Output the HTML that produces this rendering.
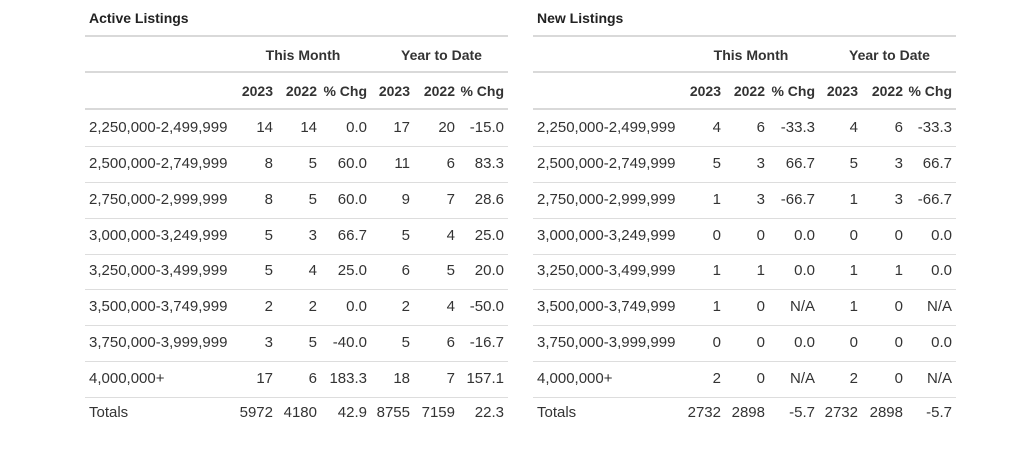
<!DOCTYPE html>
<html><head><meta charset="utf-8"><style>
body{margin:0;width:1024px;height:460px;background:#fff;font-family:"Liberation Sans",sans-serif;color:#333;position:relative;overflow:hidden}
.a{position:absolute;white-space:nowrap;font-size:15px;line-height:16px}
.t{font-size:14px;font-weight:bold;color:#222}
.h{font-weight:bold;color:#333;font-size:14px}
.l{position:absolute;height:1px;background:#ddd}
.L{position:absolute;height:2px;background:#d9d9d9}
</style></head><body><div id="r"></div>
<script>
const T=[
["Active Listings",[
["2,250,000-2,499,999","14","14","0.0","17","20","-15.0"],
["2,500,000-2,749,999","8","5","60.0","11","6","83.3"],
["2,750,000-2,999,999","8","5","60.0","9","7","28.6"],
["3,000,000-3,249,999","5","3","66.7","5","4","25.0"],
["3,250,000-3,499,999","5","4","25.0","6","5","20.0"],
["3,500,000-3,749,999","2","2","0.0","2","4","-50.0"],
["3,750,000-3,999,999","3","5","-40.0","5","6","-16.7"],
["4,000,000+","17","6","183.3","18","7","157.1"],
["Totals","5972","4180","42.9","8755","7159","22.3"]]],
["New Listings",[
["2,250,000-2,499,999","4","6","-33.3","4","6","-33.3"],
["2,500,000-2,749,999","5","3","66.7","5","3","66.7"],
["2,750,000-2,999,999","1","3","-66.7","1","3","-66.7"],
["3,000,000-3,249,999","0","0","0.0","0","0","0.0"],
["3,250,000-3,499,999","1","1","0.0","1","1","0.0"],
["3,500,000-3,749,999","1","0","N/A","1","0","N/A"],
["3,750,000-3,999,999","0","0","0.0","0","0","0.0"],
["4,000,000+","2","0","N/A","2","0","N/A"],
["Totals","2732","2898","-5.7","2732","2898","-5.7"]]]];
const R=[273,317,367,410,455,504];
const ys=[128,164,200,236,271,307,343,379,413];
let h="";
T.forEach((t,k)=>{const o=k*448,x0=85+o,w=423;
h+=`<div class="a t" style="left:${89+o}px;top:10px">${t[0]}</div>`;
h+=`<div class="L" style="left:${x0}px;width:${w}px;top:35px"></div>`;
h+=`<div class="L" style="left:${x0}px;width:${w}px;top:71px"></div>`;
h+=`<div class="L" style="left:${x0}px;width:${w}px;top:108px"></div>`;
h+=`<div class="a h" style="left:${235+o}px;width:136px;text-align:center;top:47px">This Month</div>`;
h+=`<div class="a h" style="left:${375+o}px;width:133px;text-align:center;top:47px">Year to Date</div>`;
["2023","2022","% Chg","2023","2022","% Chg"].forEach((s,i)=>{h+=`<div class="a h" style="right:${1024-R[i]-o}px;top:83px">${s}</div>`});
t[1].forEach((r,j)=>{const y=ys[j]-8;
h+=`<div class="a" style="left:${89+o}px;top:${y}px">${r[0]}</div>`;
for(let i=1;i<7;i++)h+=`<div class="a" style="right:${1024-R[i-1]-o}px;top:${y}px">${r[i]}</div>`;
if(j<8)h+=`<div class="l" style="left:${x0}px;width:${w}px;top:${ys[j]+18}px"></div>`;});
});
document.getElementById("r").innerHTML=h;
</script></body></html>
